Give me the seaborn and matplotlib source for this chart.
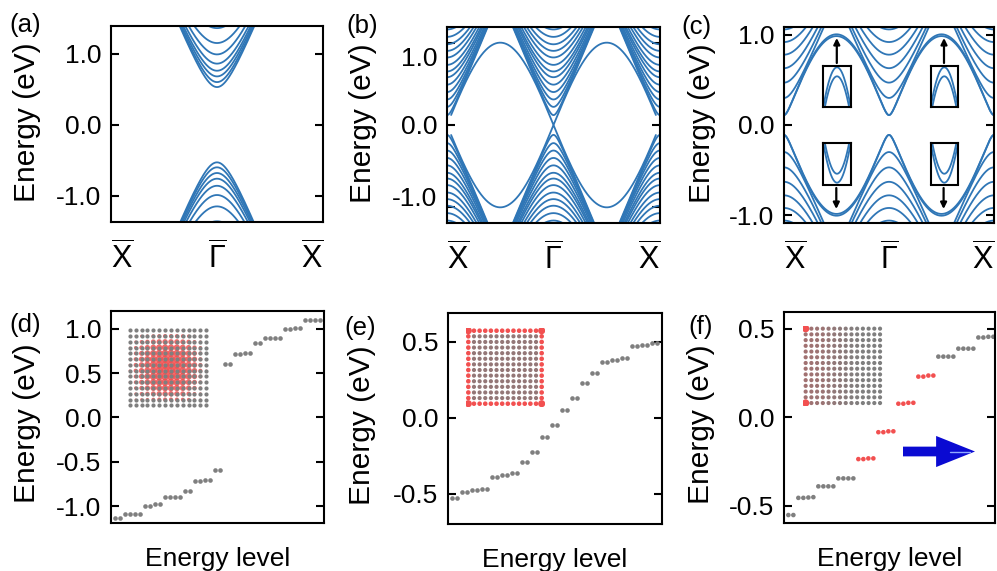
import numpy as np
import pandas as pd
import matplotlib
matplotlib.use("Agg")
import matplotlib.pyplot as plt
import seaborn as sns
from matplotlib.colors import LinearSegmentedColormap

# ---------------- data ----------------
# top row: band edges (eV) at the band centres and the slope of each band family
a_band_edges = [0.53, 0.60, 0.68, 0.76, 0.86, 0.99, 1.15, 1.36]
a_velocity = 7.3
a_centres = [0.5]

b_band_edges = [0.12, 0.22, 0.31, 0.40, 0.49, 0.58, 0.65, 0.73, 0.82, 0.90, 0.98, 1.07, 1.16]
b_velocity = 6.2
b_centres = [0.0, 0.5, 1.0]
b_edge_state_amp = 1.0

c_band_edges = [0.30, 0.47, 0.63, 0.78, 0.92, 1.06]
c_velocity = 5.5
c_centres = [0.0, 0.5, 1.0]
c_arch_gap = [0.11, 0.11]
c_arch_amp = [1.00, 0.98]

k_ticks = [0.0, 0.5, 1.0]
k_labels = [r"$\overline{\mathrm{X}}$", r"$\overline{\Gamma}$", r"$\overline{\mathrm{X}}$"]

# bottom row: eigen-energies (eV) of 42 consecutive levels
d_energy = [-1.134, -1.134, -1.09, -1.09, -1.09, -1.09, -1.0, -1.0, -0.981, -0.981,
            -0.892, -0.892, -0.892, -0.892, -0.825, -0.825, -0.716, -0.716, -0.709, -0.709,
            -0.59, -0.59, 0.597, 0.597, 0.72, 0.72, 0.728, 0.728, 0.836, 0.836,
            0.896, 0.896, 0.896, 0.896, 0.993, 0.993, 1.007, 1.007, 1.097, 1.097, 1.097, 1.097]
e_energy = [-0.529, -0.529, -0.487, -0.487, -0.479, -0.479, -0.472, -0.472,
            -0.393, -0.393, -0.379, -0.379, -0.364, -0.364, -0.294, -0.294,
            -0.227, -0.227, -0.126, -0.126, -0.049, -0.049, 0.049, 0.049,
            0.128, 0.128, 0.226, 0.226, 0.294, 0.294, 0.364, 0.364, 0.379, 0.379,
            0.393, 0.393, 0.474, 0.474, 0.480, 0.480, 0.491, 0.491]
f_energy = [-0.552, -0.552, -0.455, -0.455, -0.453, -0.451, -0.39, -0.39, -0.39, -0.39,
            -0.345, -0.345, -0.345, -0.345, -0.236, -0.236, -0.232, -0.232,
            -0.084, -0.084, -0.079, -0.079, 0.077, 0.077, 0.082, 0.082,
            0.230, 0.230, 0.236, 0.236, 0.343, 0.343, 0.343, 0.343,
            0.388, 0.388, 0.388, 0.388, 0.451, 0.451, 0.455, 0.455]
f_corner_state = [0] * 14 + [1] * 16 + [0] * 12

# lattice insets (14 x 14 sites)
lattice_n = 14
d_profile = [0.08, 0.25, 0.45, 0.65, 0.82, 0.95, 1.0, 1.0, 0.95, 0.82, 0.65, 0.45, 0.25, 0.08]
e_edge_weight = 1.0
e_bulk_weight = 0.18
f_column_tint = [0.3, 0.28, 0.26, 0.24, 0.2, 0.16, 0.12, 0.08, 0.05, 0.03, 0.0, 0.0, 0.0, 0.0]

# ---------------- style ----------------
sns.set_style("white")
plt.rcParams["font.family"] = ["Liberation Sans", "DejaVu Sans"]
plt.rcParams["mathtext.fontset"] = "custom"
plt.rcParams["mathtext.rm"] = "Liberation Sans"
plt.rcParams["mathtext.it"] = "Liberation Sans:italic"
plt.rcParams["mathtext.bf"] = "Liberation Sans:bold"
for key in ("text.color", "axes.labelcolor", "xtick.color", "ytick.color"):
    plt.rcParams[key] = "black"

BLUE = "#2f76b6"
GRAY = "#7f7f7f"
RED = "#f25050"
W, H = 997, 571
TICK_FS = 19
YLAB_FS = 21.5
XLAB_FS = 19
PANEL_FS = 18.5

fig = plt.figure(figsize=(W / 100, H / 100), dpi=100)


def px_axes(l, t, r, b, z=1):
    ax = fig.add_axes([l / W, 1 - b / H, (r - l) / W, (b - t) / H])
    ax.set_zorder(z)
    return ax


kgrid = np.linspace(0, 1, 1601)


def bulk_frames(edges, vel, centres):
    d = np.min(np.abs(kgrid[:, None] - np.asarray(centres)[None, :]), axis=1)
    frames = []
    for i, e0 in enumerate(edges):
        e = np.sqrt(e0 ** 2 + (vel * d) ** 2)
        frames.append(pd.DataFrame({"k": kgrid, "E": e, "band": f"c{i}"}))
        frames.append(pd.DataFrame({"k": kgrid, "E": -e, "band": f"v{i}"}))
    return frames


def arch_frames(gaps, amps, kk, tag):
    frames = []
    for i, (g, a) in enumerate(zip(gaps, amps)):
        e = np.sqrt(g ** 2 + (a * np.sin(2 * np.pi * kk)) ** 2)
        frames.append(pd.DataFrame({"k": kk, "E": e, "band": f"{tag}c{i}"}))
        frames.append(pd.DataFrame({"k": kk, "E": -e, "band": f"{tag}v{i}"}))
    return frames


def draw_bands(ax, frames, lw=1.3):
    df = pd.concat(frames, ignore_index=True)
    sns.lineplot(data=df, x="k", y="E", units="band", estimator=None, sort=False,
                 color=BLUE, linewidth=lw, ax=ax, legend=False)


def frame_style(ax):
    for s in ax.spines.values():
        s.set_visible(True)
        s.set_linewidth(1.5)
        s.set_color("black")


def style_top(ax, ylim):
    ax.set_xlim(0, 1)
    ax.set_ylim(*ylim)
    ax.set_xticks(k_ticks)
    ax.set_xticklabels(k_labels, fontsize=22)
    labs = ax.get_xticklabels()
    labs[0].set_horizontalalignment("left")
    labs[-1].set_horizontalalignment("right")
    ax.tick_params(axis="x", length=0, pad=14)
    ax.tick_params(axis="y", which="major", direction="in", length=6, width=1.5,
                   left=True, right=True, labelsize=TICK_FS, pad=7)
    ax.set_xlabel("")
    ax.set_ylabel("Energy (eV)", fontsize=YLAB_FS)
    frame_style(ax)


def style_bottom(ax, ylim, xlim, ticks, labels):
    ax.set_xlim(*xlim)
    ax.set_ylim(*ylim)
    ax.set_xticks([])
    ax.set_yticks(ticks)
    ax.set_yticklabels(labels)
    ax.tick_params(axis="y", direction="in", length=6, width=1.5, left=True, right=True,
                   labelsize=TICK_FS, pad=7)
    ax.set_xlabel("Energy level", fontsize=XLAB_FS, labelpad=17)
    ax.set_ylabel("Energy (eV)", fontsize=YLAB_FS)
    frame_style(ax)


# ---------------- (a) ----------------
ax_a = px_axes(111, 26, 323, 222)
draw_bands(ax_a, bulk_frames(a_band_edges, a_velocity, a_centres))
style_top(ax_a, (-1.37, 1.39))
ax_a.set_yticks([-1.0, 0.0, 1.0])
ax_a.set_yticklabels(["-1.0", "0.0", "1.0"])
ax_a.yaxis.set_label_coords(-0.33, 0.51)

# ---------------- (b) ----------------
ax_b = px_axes(447, 27, 660, 223)
kk_b = kgrid[(np.abs(np.sin(2 * np.pi * kgrid)) * b_edge_state_amp >= b_band_edges[0]) |
             (np.abs(kgrid - 0.5) < 0.1)]
edge_b = []
for sgn, tag in ((1, "eu"), (-1, "ed")):
    edge_b.append(pd.DataFrame({"k": kk_b, "E": sgn * b_edge_state_amp * np.abs(np.sin(2 * np.pi * kk_b)),
                                "band": tag}))
draw_bands(ax_b, bulk_frames(b_band_edges, b_velocity, b_centres) + edge_b)
style_top(ax_b, (-1.19, 1.19))
ax_b.set_yticks([-1.0, 0.0, 1.0])
ax_b.set_yticklabels(["", "0.0", ""])
ax_b.set_yticks([-0.87, 0.83], minor=True)
ax_b.set_yticklabels(["-1.0", "1.0"], minor=True)
ax_b.tick_params(axis="y", which="minor", length=0, left=True, right=False,
                 labelsize=TICK_FS, pad=7)
ax_b.yaxis.set_label_coords(-0.33, 0.51)

# ---------------- (c) ----------------
ax_c = px_axes(784, 27, 994, 223)
draw_bands(ax_c, bulk_frames(c_band_edges, c_velocity, c_centres) +
           arch_frames(c_arch_gap, c_arch_amp, kgrid, "a"))
style_top(ax_c, (-1.087, 1.087))
ax_c.set_yticks([-1.0, 0.0, 1.0])
ax_c.set_yticklabels(["-1.0", "0.0", "1.0"])
ax_c.yaxis.set_label_coords(-0.325, 0.51)

# ---------------- (d) (e) (f) level spectra ----------------
levels = np.arange(42)

ax_d = px_axes(111, 311, 324, 523)
sns.scatterplot(x=levels, y=d_energy, color=GRAY, s=11, linewidth=0, legend=False, ax=ax_d)
style_bottom(ax_d, (-1.19, 1.2), (-0.73, 41.85), [-1.0, -0.5, 0.0, 0.5, 1.0],
             ["-1.0", "-0.5", "0.0", "0.5", "1.0"])
ax_d.yaxis.set_label_coords(-0.33, 0.47)

ax_e = px_axes(448, 313, 662, 524)
sns.scatterplot(x=levels, y=e_energy, color=GRAY, s=11, linewidth=0, legend=False, ax=ax_e)
style_bottom(ax_e, (-0.70, 0.69), (-0.87, 41.93), [-0.5, 0.0, 0.5], ["-0.5", "0.0", "0.5"])
ax_e.yaxis.set_label_coords(-0.335, 0.47)

ax_f = px_axes(784, 312, 995, 523)
sns.scatterplot(x=levels, y=f_energy, hue=f_corner_state, palette={0: GRAY, 1: RED},
                s=11, linewidth=0, legend=False, ax=ax_f)
style_bottom(ax_f, (-0.597, 0.595), (-0.87, 41.33), [-0.5, 0.0, 0.5], ["-0.5", "0.0", "0.5"])
ax_f.yaxis.set_label_coords(-0.325, 0.47)

# ---------------- zoom boxes of the doubled arch in (c) ----------------
box_w = 0.0675
for (l, t, r, b, centre, sgn) in [(823.3, 65.5, 850.7, 107.2, 0.25, 1), (930.7, 65.5, 957.9, 107.2, 0.75, 1),
                                  (823.3, 143.0, 850.7, 184.5, 0.25, -1), (930.7, 143.0, 957.9, 184.5, 0.75, -1)]:
    axi = px_axes(l, t, r, b, z=5)
    kk = np.linspace(centre - box_w, centre + box_w, 300)
    draw_bands(axi, arch_frames(c_arch_gap, c_arch_amp, kk, "z"), lw=1.3)
    axi.set_xlim(centre - box_w, centre + box_w)
    if sgn > 0:
        axi.set_ylim(0.918, 1.010)
    else:
        axi.set_ylim(-1.010, -0.918)
    axi.set_xticks([]); axi.set_yticks([])
    axi.set_xlabel(""); axi.set_ylabel("")
    axi.set_facecolor("white")
    frame_style(axi)

for x, y0, y1 in [(836.8, 63, 38), (944.0, 63, 38), (836.3, 188, 209), (943.6, 188, 209)]:
    fig.add_artist(matplotlib.patches.FancyArrowPatch(
        posA=(x / W, 1 - y0 / H), posB=(x / W, 1 - y1 / H), transform=fig.transFigure,
        arrowstyle="-|>", mutation_scale=9, color="black", lw=1.6, shrinkA=0, shrinkB=0, zorder=10))

# ---------------- lattice insets ----------------
gx, gy = np.meshgrid(np.arange(lattice_n), np.arange(lattice_n))
gx = gx.ravel(); gy = gy.ravel()
tint_cmap = LinearSegmentedColormap.from_list("tint", [GRAY, RED])


def lattice_axes(l, t, r, b):
    axi = px_axes(l, t, r, b, z=5)
    axi.set_xlim(-0.5, lattice_n - 0.5)
    axi.set_ylim(lattice_n - 0.5, -0.5)
    axi.axis("off")
    return axi


# (d) bulk state: red density under the grey sites
dens_d = np.outer(d_profile, d_profile).ravel()
axd_in = lattice_axes(126.8, 327.4, 209.2, 408.2)
sns.scatterplot(x=gx, y=gy, size=dens_d, sizes=(0, 34), size_norm=(0, 1), color=RED,
                alpha=0.85, linewidth=0, legend=False, ax=axd_in)
sns.scatterplot(x=gx, y=gy, color=GRAY, s=9, linewidth=0, legend=False, ax=axd_in)

# (e) edge state
edge_mask = (gx == 0) | (gx == lattice_n - 1) | (gy == 0) | (gy == lattice_n - 1)
corner_mask = ((gx == 0) | (gx == lattice_n - 1)) & ((gy == 0) | (gy == lattice_n - 1))
w_e = np.where(edge_mask, e_edge_weight, e_bulk_weight)
s_e = np.where(corner_mask, 26.0, np.where(edge_mask, 11.0, 9.0))
axe_in = lattice_axes(465.5, 327.9, 544.5, 406.5)
sns.scatterplot(x=gx, y=gy, hue=w_e, palette=tint_cmap, hue_norm=(0, 1), size=s_e,
                sizes=(9, 26), size_norm=(9, 26), linewidth=0, legend=False, ax=axe_in)

# (f) corner state
w_f = np.array(f_column_tint)[gx]
cornerf = (gx == 0) & ((gy == 0) | (gy == lattice_n - 1))
w_f = np.where(cornerf, 1.0, w_f)
s_f = np.where(cornerf, 28.0, 9.0)
axf_in = lattice_axes(802.8, 325.8, 882.9, 405.9)
sns.scatterplot(x=gx, y=gy, hue=w_f, palette=tint_cmap, hue_norm=(0, 1), size=s_f,
                sizes=(9, 28), size_norm=(9, 28), linewidth=0, legend=False, ax=axf_in)

# blue arrow in (f)
fig.add_artist(matplotlib.patches.FancyArrowPatch(
    posA=(903 / W, 1 - 451.5 / H), posB=(975 / W, 1 - 451.5 / H), transform=fig.transFigure,
    arrowstyle="simple,head_length=2.0,head_width=1.6,tail_width=0.5", mutation_scale=14,
    color="#0a0ad2", lw=0, shrinkA=0, shrinkB=0, zorder=10))
fig.add_artist(matplotlib.lines.Line2D([950 / W, 970 / W], [1 - 451.5 / H, 1 - 451.5 / H],
                                       transform=fig.transFigure, color="#8fa8ff", lw=1.0, zorder=11))

# panel labels
for lab, x, y in [("(a)", 9, 25), ("(b)", 346, 26), ("(c)", 681, 27),
                  ("(d)", 9, 325), ("(e)", 344, 328), ("(f)", 688, 327)]:
    fig.text(x / W, 1 - y / H, lab, ha="left", va="center", fontsize=PANEL_FS)

fig.savefig("out.png", dpi=100)
